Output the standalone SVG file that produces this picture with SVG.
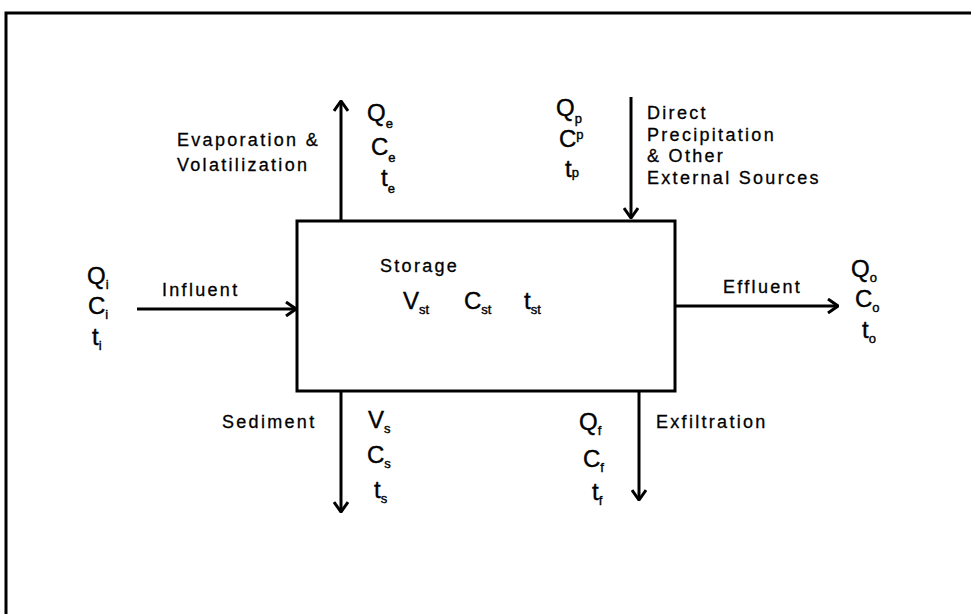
<svg xmlns="http://www.w3.org/2000/svg" width="971" height="614" viewBox="0 0 971 614">
<style>
.lbl{font-family:"Liberation Sans",Arial,sans-serif;font-size:18px;letter-spacing:2.3px;fill:#000;stroke:#000;stroke-width:0.3}
.var{font-family:"Liberation Sans",Arial,sans-serif;font-size:24px;fill:#000;stroke:#000;stroke-width:0.4}
.sub{font-size:13px}
.ln{stroke:#000;stroke-width:3;fill:none}
</style>
<defs>
<marker id="ah" viewBox="0 0 12 16" refX="11" refY="8" markerWidth="12" markerHeight="16" markerUnits="userSpaceOnUse" orient="auto">
<path d="M1,1 L11,8 L1,15" fill="none" stroke="#000" stroke-width="3"/>
</marker>
</defs>
<rect width="971" height="614" fill="#fff"/>
<g id="frame">
<polyline class="ln" points="6,614 6,13 971,13"/>
</g>
<g id="storage">
<rect class="ln" x="297" y="221" width="378" height="170"/>
<text class="lbl" x="380" y="272">Storage</text>
<text class="var" x="403" y="309">V<tspan class="sub" dy="5">st</tspan></text>
<text class="var" x="464" y="309">C<tspan class="sub" dy="5">st</tspan></text>
<text class="var" x="524" y="309">t<tspan class="sub" dy="5">st</tspan></text>
</g>
<g id="connectors">
<line class="ln" x1="341" y1="221" x2="341" y2="101" marker-end="url(#ah)"/>
<line class="ln" x1="631" y1="97" x2="631" y2="218" marker-end="url(#ah)"/>
<line class="ln" x1="137" y1="309" x2="296" y2="309" marker-end="url(#ah)"/>
<line class="ln" x1="675" y1="306" x2="838" y2="306" marker-end="url(#ah)"/>
<line class="ln" x1="341" y1="391" x2="341" y2="512" marker-end="url(#ah)"/>
<line class="ln" x1="639" y1="391" x2="639" y2="500" marker-end="url(#ah)"/>
</g>
<g id="evaporation">
<text class="lbl" x="177" y="146">Evaporation &amp;</text>
<text class="lbl" x="177" y="171">Volatilization</text>
<text class="var" x="367" y="121">Q<tspan class="sub" dy="7">e</tspan></text>
<text class="var" x="371" y="155">C<tspan class="sub" dy="7">e</tspan></text>
<text class="var" x="381" y="186">t<tspan class="sub" dy="7">e</tspan></text>
</g>
<g id="precipitation">
<text class="lbl" x="647" y="119">Direct</text>
<text class="lbl" x="647" y="141">Precipitation</text>
<text class="lbl" x="647" y="162">&amp; Other</text>
<text class="lbl" x="647" y="184">External Sources</text>
<text class="var" x="556" y="116">Q<tspan class="sub" dy="7">p</tspan></text>
<text class="var" x="559" y="147">C<tspan class="sub" dy="-8">p</tspan></text>
<text class="var" x="565" y="177">t<tspan class="sub" dy="0">p</tspan></text>
</g>
<g id="influent">
<text class="lbl" x="162" y="296">Influent</text>
<text class="var" x="87" y="284">Q<tspan class="sub" dy="5">i</tspan></text>
<text class="var" x="88" y="314">C<tspan class="sub" dy="5">i</tspan></text>
<text class="var" x="92" y="345">t<tspan class="sub" dy="5">i</tspan></text>
</g>
<g id="effluent">
<text class="lbl" x="723" y="293">Effluent</text>
<text class="var" x="851" y="277">Q<tspan class="sub" dy="5">o</tspan></text>
<text class="var" x="855" y="307">C<tspan class="sub" dy="5">o</tspan></text>
<text class="var" x="862" y="338">t<tspan class="sub" dy="5">o</tspan></text>
</g>
<g id="sediment">
<text class="lbl" x="222" y="428">Sediment</text>
<text class="var" x="368" y="428">V<tspan class="sub" dy="5">s</tspan></text>
<text class="var" x="367" y="463">C<tspan class="sub" dy="5">s</tspan></text>
<text class="var" x="374" y="498">t<tspan class="sub" dy="5">s</tspan></text>
</g>
<g id="exfiltration">
<text class="lbl" x="656" y="428">Exfiltration</text>
<text class="var" x="579" y="430">Q<tspan class="sub" dy="5">f</tspan></text>
<text class="var" x="583" y="467">C<tspan class="sub" dy="5">f</tspan></text>
<text class="var" x="592" y="500">t<tspan class="sub" dy="5">f</tspan></text>
</g>
</svg>
